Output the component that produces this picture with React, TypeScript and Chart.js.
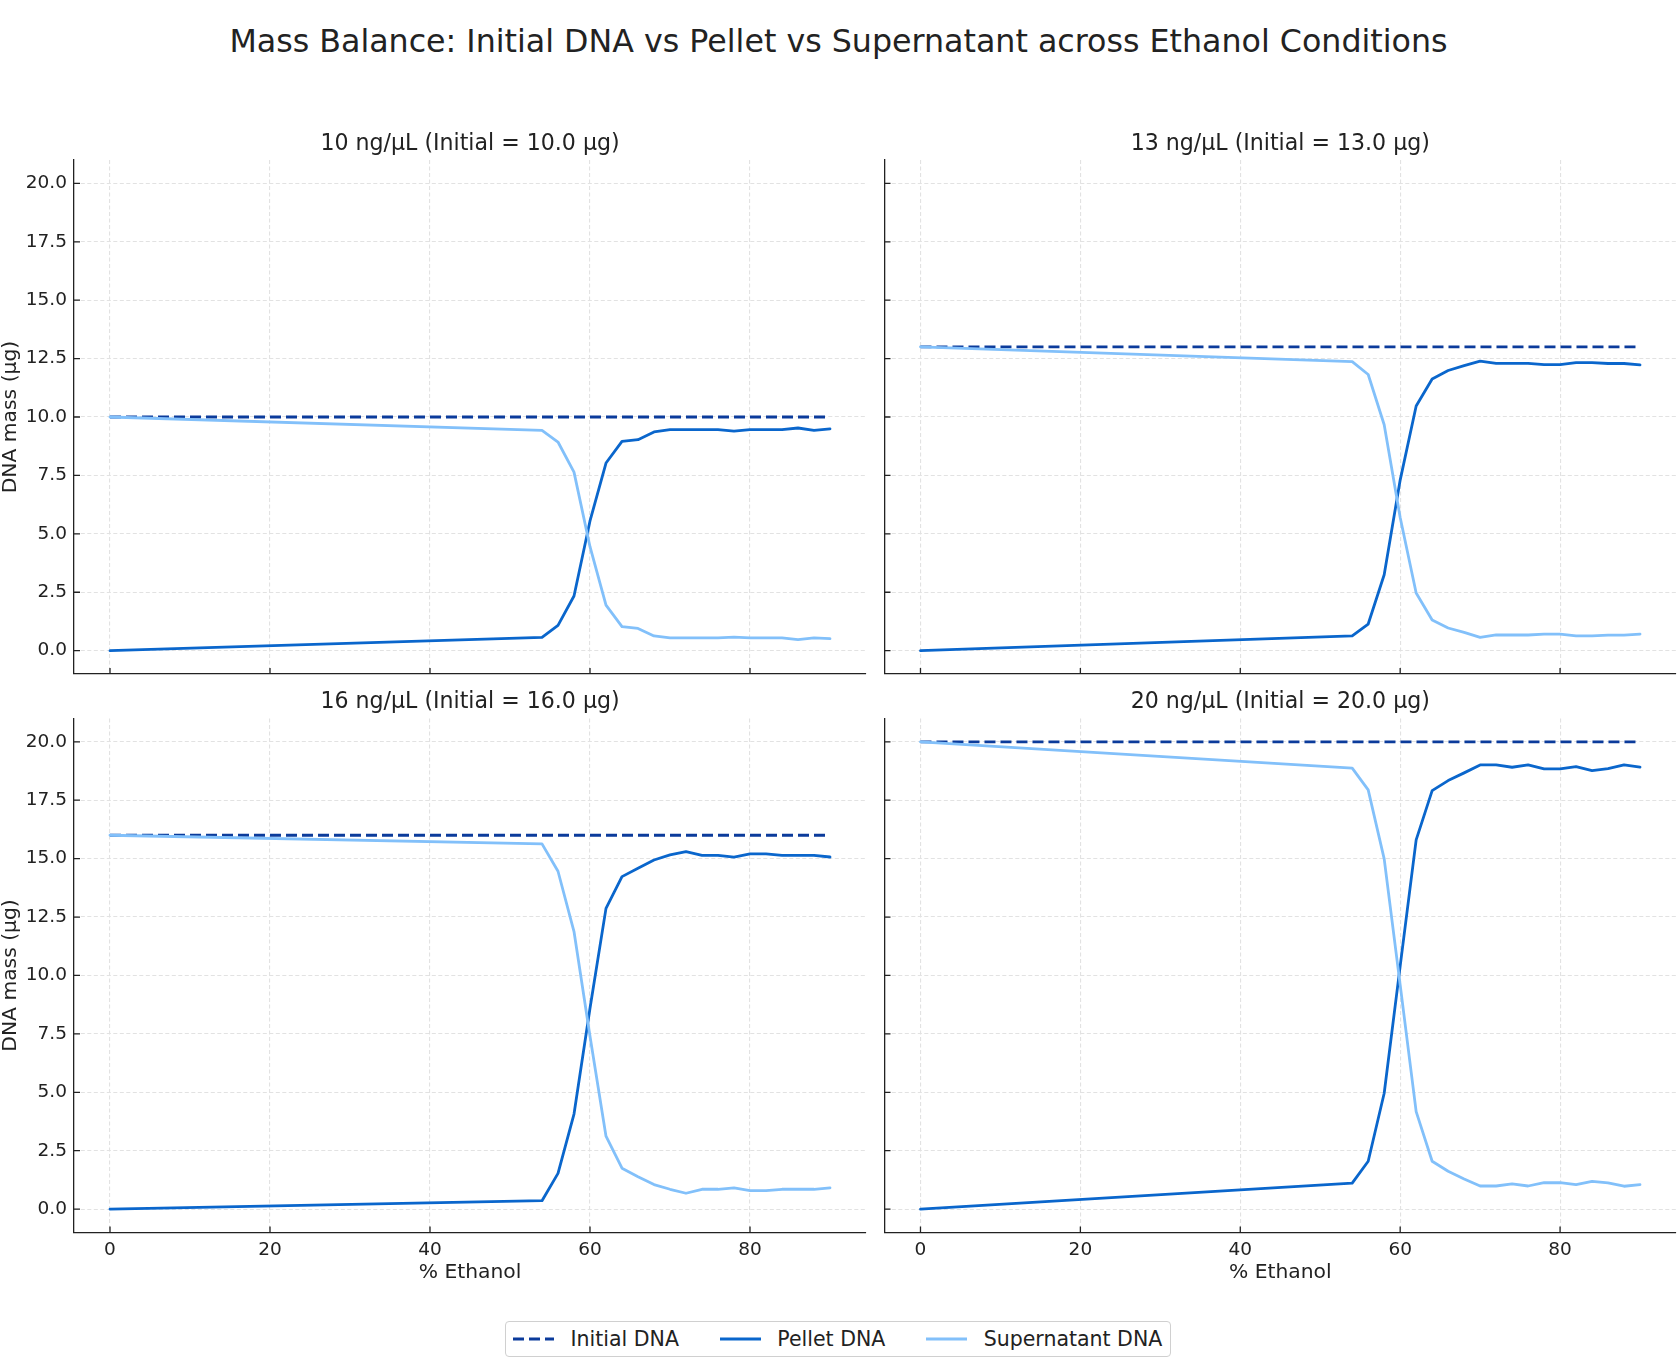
import React, { useEffect, useRef } from "react";
import { Chart, registerables } from "chart.js";

Chart.register(...registerables);

// ---- data ----
const ethanolPct = [0, 54, 56, 58, 60, 62, 64, 66, 68, 70, 72, 74, 76, 78, 80, 82, 84, 86, 88, 90];
const concentrations = [10, 13, 16, 20];
const initialMass = [10.0, 13.0, 16.0, 20.0];

const pellet10 = [0, 0.57, 1.08, 2.34, 5.55, 8.03, 8.96, 9.03, 9.36, 9.46, 9.46, 9.46, 9.46, 9.4, 9.46, 9.46, 9.46, 9.53, 9.43, 9.49];
const supernatant10 = [10.0, 9.43, 8.93, 7.64, 4.45, 1.95, 1.03, 0.95, 0.63, 0.55, 0.55, 0.55, 0.55, 0.58, 0.55, 0.55, 0.55, 0.47, 0.55, 0.51];

const pellet13 = [0, 0.63, 1.14, 3.25, 7.3, 10.47, 11.63, 11.99, 12.2, 12.39, 12.3, 12.3, 12.3, 12.24, 12.24, 12.33, 12.33, 12.29, 12.29, 12.23];
const supernatant13 = [13.0, 12.37, 11.82, 9.67, 5.7, 2.47, 1.31, 0.97, 0.78, 0.57, 0.67, 0.67, 0.67, 0.71, 0.71, 0.63, 0.63, 0.66, 0.66, 0.71];

const pellet16 = [0, 0.36, 1.53, 4.07, 8.6, 12.87, 14.23, 14.59, 14.94, 15.16, 15.3, 15.14, 15.14, 15.06, 15.2, 15.2, 15.14, 15.14, 15.14, 15.07];
const supernatant16 = [16.0, 15.63, 14.46, 11.88, 7.4, 3.12, 1.75, 1.39, 1.05, 0.85, 0.68, 0.85, 0.85, 0.91, 0.79, 0.79, 0.85, 0.85, 0.85, 0.91];

const pellet20 = [0, 1.11, 2.05, 4.96, 10.4, 15.8, 17.91, 18.34, 18.67, 19.01, 19.01, 18.91, 19.01, 18.84, 18.84, 18.94, 18.77, 18.85, 19.01, 18.92];
const supernatant20 = [20.0, 18.87, 17.94, 14.99, 9.6, 4.17, 2.05, 1.62, 1.29, 0.99, 0.99, 1.08, 0.99, 1.13, 1.13, 1.05, 1.19, 1.12, 0.98, 1.05];

const pelletSeries = [pellet10, pellet13, pellet16, pellet20];
const supernatantSeries = [supernatant10, supernatant13, supernatant16, supernatant20];

const xTicks = [0, 20, 40, 60, 80];
const yTicks = [0, 2.5, 5, 7.5, 10, 12.5, 15, 17.5, 20];

const seriesNames = ["Initial DNA", "Pellet DNA", "Supernatant DNA"];

// ---- styling ----
const FONT = "'DejaVu Sans', 'Liberation Sans', sans-serif";
const TEXT = "#222222";
const SPINE = "#222222";
const GRID = "#e2e2e2";
const INITIAL_COLOR = "#0b3b9b";
const PELLET_COLOR = "#0a66cc";
const SUPER_COLOR = "#82c0fa";
const LINE_W = 2.8;
const INITIAL_DASH = [11, 5];
const TICK_LEN = 6;

Chart.defaults.font.family = FONT;
Chart.defaults.color = TEXT;

// matplotlib-style ticks that point into the plotting area
const inwardTicks = {
  id: "inwardTicks",
  afterDraw(chart: any) {
    const { ctx, chartArea, scales } = chart;
    ctx.save();
    ctx.strokeStyle = SPINE;
    ctx.lineWidth = 1.3;
    ctx.beginPath();
    for (const v of xTicks) {
      const px = scales.x.getPixelForValue(v);
      ctx.moveTo(px, chartArea.bottom);
      ctx.lineTo(px, chartArea.bottom - TICK_LEN);
    }
    for (const v of yTicks) {
      const py = scales.y.getPixelForValue(v);
      ctx.moveTo(chartArea.left, py);
      ctx.lineTo(chartArea.left + TICK_LEN, py);
    }
    ctx.stroke();
    ctx.restore();
  },
};

type PanelLayout = {
  left: number;
  top: number;
  width: number;
  height: number;
  yAxisW: number;
  xAxisH: number;
  rightPad: number;
  titlePadTop: number;
  titlePadBottom: number;
  showX: boolean;
  showY: boolean;
};

const panelLayouts: PanelLayout[] = [
  { left: 0, top: 110, width: 870, height: 584, yAxisW: 74, xAxisH: 20, rightPad: 4, titlePadTop: 20.7, titlePadBottom: 2.8, showX: false, showY: true },
  { left: 870, top: 110, width: 807, height: 584, yAxisW: 14.5, xAxisH: 20, rightPad: 1, titlePadTop: 20.7, titlePadBottom: 2.8, showX: false, showY: false },
  { left: 0, top: 680, width: 870, height: 610, yAxisW: 74, xAxisH: 57.5, rightPad: 4, titlePadTop: 8.7, titlePadBottom: 3.2, showX: true, showY: true },
  { left: 870, top: 680, width: 807, height: 610, yAxisW: 14.5, xAxisH: 57.5, rightPad: 1, titlePadTop: 8.7, titlePadBottom: 3.2, showX: true, showY: false },
];

function Panel({ index }: { index: number }) {
  const ref = useRef<HTMLCanvasElement | null>(null);
  const lay = panelLayouts[index];

  useEffect(() => {
    if (!ref.current) return;
    const initial = initialMass[index];
    const pellet = pelletSeries[index];
    const supernatant = supernatantSeries[index];

    const chart = new Chart(ref.current, {
      type: "line",
      data: {
        datasets: [
          {
            label: seriesNames[0],
            data: ethanolPct.map((x) => ({ x, y: initial })),
            borderColor: INITIAL_COLOR,
            backgroundColor: INITIAL_COLOR,
            borderWidth: LINE_W,
            borderDash: INITIAL_DASH,
            borderCapStyle: "butt",
            pointRadius: 0,
            tension: 0,
            order: 2,
          },
          {
            label: seriesNames[1],
            data: ethanolPct.map((x, i) => ({ x, y: pellet[i] })),
            borderColor: PELLET_COLOR,
            backgroundColor: PELLET_COLOR,
            borderWidth: LINE_W,
            borderJoinStyle: "round",
            borderCapStyle: "round",
            pointRadius: 0,
            tension: 0,
            order: 1,
          },
          {
            label: seriesNames[2],
            data: ethanolPct.map((x, i) => ({ x, y: supernatant[i] })),
            borderColor: SUPER_COLOR,
            backgroundColor: SUPER_COLOR,
            borderWidth: LINE_W,
            borderJoinStyle: "round",
            borderCapStyle: "round",
            pointRadius: 0,
            tension: 0,
            order: 0,
          },
        ],
      },
      options: {
        responsive: false,
        maintainAspectRatio: false,
        animation: false,
        devicePixelRatio: 1,
        layout: { padding: { left: 0, right: lay.rightPad, top: 0, bottom: 0 } },
        plugins: {
          legend: { display: false },
          tooltip: { enabled: false },
          title: {
            display: true,
            text: `${concentrations[index]} ng/µL (Initial = ${initial.toFixed(1)} µg)`,
            fullSize: false,
            color: TEXT,
            font: { family: FONT, size: 22.1, weight: "normal", lineHeight: 1.2 },
            padding: { top: lay.titlePadTop, bottom: lay.titlePadBottom },
          },
        },
        scales: {
          x: {
            type: "linear",
            bounds: "data",
            min: -4.5,
            max: 94.5,
            afterBuildTicks: (s: any) => {
              s.ticks = xTicks.map((value) => ({ value }));
            },
            afterFit: (s: any) => {
              s.height = lay.xAxisH;
            },
            ticks: {
              display: lay.showX,
              padding: 6.5,
              color: TEXT,
              font: { family: FONT, size: 18.5, lineHeight: 1.2 },
              maxRotation: 0,
            },
            grid: { color: GRID, lineWidth: 1.1, drawTicks: false },
            border: { display: true, color: SPINE, width: 1.3, dash: [4, 2.5] },
            title: {
              display: lay.showX,
              text: "% Ethanol",
              color: TEXT,
              font: { family: FONT, size: 20.3, lineHeight: 1 },
              padding: { top: 0, bottom: 6.9 },
            },
          },
          y: {
            type: "linear",
            bounds: "data",
            min: -1,
            max: 21,
            afterBuildTicks: (s: any) => {
              s.ticks = yTicks.map((value) => ({ value }));
            },
            afterFit: (s: any) => {
              s.width = lay.yAxisW;
            },
            ticks: {
              display: lay.showY,
              padding: 7,
              color: TEXT,
              font: { family: FONT, size: 18.5, lineHeight: 1.2 },
              callback: (v: any) => Number(v).toFixed(1),
            },
            grid: { color: GRID, lineWidth: 1.1, drawTicks: false },
            border: { display: true, color: SPINE, width: 1.3, dash: [4, 2.5] },
            title: {
              display: lay.showY,
              text: "DNA mass (µg)",
              color: TEXT,
              font: { family: FONT, size: 20.3, lineHeight: 1 },
              padding: { top: 0.3, bottom: 0 },
            },
          },
        },
      },
      plugins: [inwardTicks],
    } as any);

    return () => chart.destroy();
  }, [index]);

  return (
    <canvas
      ref={ref}
      width={lay.width}
      height={lay.height}
      style={{ position: "absolute", left: lay.left, top: lay.top, width: lay.width, height: lay.height }}
    />
  );
}

function LegendHandle({ color, dashed }: { color: string; dashed: boolean }) {
  return (
    <svg width={41} height={8} style={{ display: "block", marginRight: 16.4, flex: "none" }}>
      <line
        x1={0}
        y1={4}
        x2={41}
        y2={4}
        stroke={color}
        strokeWidth={LINE_W}
        strokeDasharray={dashed ? INITIAL_DASH.join(" ") : undefined}
      />
    </svg>
  );
}

export default function App() {
  const legendColors = [INITIAL_COLOR, PELLET_COLOR, SUPER_COLOR];
  return (
    <div
      style={{
        position: "absolute",
        left: 0,
        top: 0,
        width: 1677,
        height: 1359,
        overflow: "hidden",
        background: "#ffffff",
        fontFamily: FONT,
        color: TEXT,
      }}
    >
      <div
        style={{
          position: "absolute",
          left: 0,
          top: 26,
          width: 1677,
          textAlign: "center",
          fontSize: 31.7,
          lineHeight: "31.7px",
          whiteSpace: "nowrap",
        }}
      >
        Mass Balance: Initial DNA vs Pellet vs Supernatant across Ethanol Conditions
      </div>

      {panelLayouts.map((_, i) => (
        <Panel key={i} index={i} />
      ))}

      <div
        style={{
          position: "absolute",
          left: 505,
          top: 1321,
          width: 666,
          height: 36,
          boxSizing: "border-box",
          border: "1px solid #d0d0d0",
          borderRadius: 4,
          display: "flex",
          alignItems: "center",
          padding: "0 7.2px",
          fontSize: 20.5,
          whiteSpace: "nowrap",
        }}
      >
        {seriesNames.map((name, i) => (
          <div
            key={name}
            style={{ display: "flex", alignItems: "center", marginLeft: i === 0 ? 0 : 41 }}
          >
            <LegendHandle color={legendColors[i]} dashed={i === 0} />
            <span>{name}</span>
          </div>
        ))}
      </div>
    </div>
  );
}
